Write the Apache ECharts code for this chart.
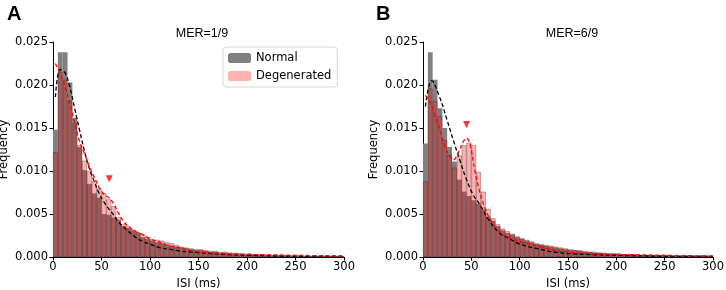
<!DOCTYPE html>
<html>
<head>
<meta charset="utf-8">
<script src="https://cdn.jsdelivr.net/npm/echarts@6/dist/echarts.min.js"></script>
<style>
  html, body { margin: 0; padding: 0; background: #fff; }
  #chart { width: 726px; height: 290px; }
</style>
</head>
<body>
<div id="chart"></div>
<script>
// 5 ms bins from 0 to 300 ms
const binLabels = []
for (let i = 0; i < 60; i++) binLabels.push(i * 5 + 2.5)

const xTicks = [0, 50, 100, 150, 200, 250, 300]
const yTicks = [0, 0.005, 0.010, 0.015, 0.020, 0.025]

// panel A (MER=1/9)
const normalA = [0.0148, 0.0238, 0.0238, 0.0203, 0.0162, 0.0128, 0.0101, 0.0085, 0.0074, 0.0069,
  0.0050, 0.0049, 0.0046, 0.0043, 0.0036, 0.0034, 0.0031, 0.0028, 0.0023, 0.0021,
  0.0019, 0.0017, 0.0016, 0.0014, 0.0013, 0.0012, 0.0011, 0.0010, 0.0009, 0.0008,
  0.0008, 0.0007, 0.0006, 0.0006, 0.0005, 0.0005, 0.0004, 0.0004, 0.0004, 0.0003,
  0.0003, 0.0003, 0.0003, 0.0002, 0.0002, 0.0002, 0.0002, 0.0002, 0.0002, 0.0001,
  0.0001, 0.0001, 0.0001, 0.0001, 0.0001, 0.0001, 0.0001, 0.0001, 0.0001, 0.0001]
const degenA = [0.0122, 0.0215, 0.0206, 0.0182, 0.0156, 0.0130, 0.0112, 0.0100, 0.0088, 0.0080,
  0.0074, 0.0067, 0.0059, 0.0046, 0.0038, 0.0036, 0.0032, 0.0029, 0.0026, 0.0023,
  0.0021, 0.0020, 0.0019, 0.0017, 0.0016, 0.0014, 0.0012, 0.0011, 0.0010, 0.0009,
  0.0009, 0.0008, 0.0007, 0.0007, 0.0006, 0.0006, 0.0005, 0.0005, 0.0004, 0.0004,
  0.0004, 0.0003, 0.0003, 0.0003, 0.0003, 0.0002, 0.0002, 0.0002, 0.0002, 0.0002,
  0.0002, 0.0001, 0.0001, 0.0001, 0.0001, 0.0001, 0.0001, 0.0001, 0.0001, 0.0001]
const fitNormalA = [[2.5, 0.0186], [7.5, 0.0218], [12.5, 0.0214], [17.5, 0.0197], [22.5, 0.0172],
  [27.5, 0.0147], [32.5, 0.0123], [37.5, 0.0103], [42.5, 0.0088], [47.5, 0.0074], [52.5, 0.0064],
  [57.5, 0.0056], [62.5, 0.0049], [67.5, 0.0041], [72.5, 0.0035], [77.5, 0.0030], [85, 0.0023],
  [92.5, 0.0018], [100, 0.0015], [110, 0.0011], [120, 0.0009], [130, 0.0007], [140, 0.0006],
  [150, 0.0005], [175, 0.0003], [200, 0.0002], [250, 0.0001], [300, 0.0001]]
const fitDegenA = [[2.5, 0.0225], [7.5, 0.0213], [12.5, 0.0198], [17.5, 0.0178], [22.5, 0.0155],
  [27.5, 0.0134], [32.5, 0.0120], [37.5, 0.0105], [42.5, 0.0093], [47.5, 0.0081], [52.5, 0.0073],
  [57.5, 0.0069], [62.5, 0.0062], [67.5, 0.0051], [72.5, 0.0042], [77.5, 0.0036], [85, 0.0030],
  [92.5, 0.0026], [100, 0.0021], [110, 0.0017], [120, 0.0013], [130, 0.0011], [140, 0.0008],
  [150, 0.0006], [175, 0.0004], [200, 0.0003], [250, 0.0002], [300, 0.0001]]
const peakA = [[58, 0.0091]]

// panel B (MER=6/9)
const normalB = [0.0132, 0.0238, 0.0206, 0.0173, 0.0150, 0.0128, 0.0111, 0.0090, 0.0076, 0.0071,
  0.0066, 0.0062, 0.0055, 0.0047, 0.0042, 0.0036, 0.0031, 0.0028, 0.0026, 0.0023,
  0.0021, 0.0019, 0.0017, 0.0015, 0.0014, 0.0013, 0.0012, 0.0011, 0.0010, 0.0009,
  0.0008, 0.0008, 0.0007, 0.0006, 0.0006, 0.0005, 0.0005, 0.0004, 0.0004, 0.0004,
  0.0003, 0.0003, 0.0003, 0.0003, 0.0002, 0.0002, 0.0002, 0.0002, 0.0002, 0.0002,
  0.0001, 0.0001, 0.0001, 0.0001, 0.0001, 0.0001, 0.0001, 0.0001, 0.0001, 0.0001]
const degenB = [0.0088, 0.0196, 0.0181, 0.0164, 0.0136, 0.0119, 0.0104, 0.0118, 0.0130, 0.0133,
  0.0130, 0.0099, 0.0076, 0.0056, 0.0045, 0.0038, 0.0033, 0.0030, 0.0027, 0.0024,
  0.0022, 0.0020, 0.0018, 0.0016, 0.0015, 0.0014, 0.0013, 0.0012, 0.0011, 0.0010,
  0.0009, 0.0008, 0.0008, 0.0007, 0.0006, 0.0006, 0.0005, 0.0005, 0.0004, 0.0004,
  0.0004, 0.0003, 0.0003, 0.0003, 0.0003, 0.0002, 0.0002, 0.0002, 0.0002, 0.0002,
  0.0002, 0.0001, 0.0001, 0.0001, 0.0001, 0.0001, 0.0001, 0.0001, 0.0001, 0.0001]
const fitNormalB = [[2.5, 0.0175], [9, 0.0205], [17.5, 0.0185], [24.4, 0.0161], [31.3, 0.0136],
  [38, 0.0113], [45, 0.0090], [52, 0.0072], [58.8, 0.0061], [67, 0.0045], [79, 0.0028],
  [90, 0.0021], [100, 0.0015], [121, 0.0009], [141, 0.0005], [170, 0.0003], [200, 0.0002],
  [250, 0.0001], [300, 0.0001]]
const fitDegenB = [[2.5, 0.0188], [7, 0.0181], [12, 0.0165], [17.5, 0.0148], [22.7, 0.0128],
  [27.8, 0.0117], [31.3, 0.0113], [36.4, 0.0121], [41.6, 0.0134], [45, 0.0138], [48.4, 0.0132],
  [53.6, 0.0101], [58.8, 0.0075], [64, 0.0057], [69, 0.0045], [79, 0.0029], [90, 0.0022],
  [100, 0.0018], [121, 0.0012], [141, 0.0007], [170, 0.0004], [200, 0.0003], [250, 0.0002],
  [300, 0.0001]]
const peakB = [[45, 0.0154]]

const font = 'DejaVu Sans'
const fs = 11.5
const chart = echarts.init(document.getElementById('chart'))

// 柱状图和曲线共用的坐标轴样式
function valueX (gridIndex) {
  return {
    type: 'value', gridIndex, position: 'bottom', min: 0, max: 300, interval: 50,
    name: 'ISI (ms)', nameLocation: 'middle', nameGap: 20,
    nameTextStyle: { color: '#000', fontSize: fs, fontFamily: font },
    axisLine: { lineStyle: { color: '#000', width: 1 } },
    axisTick: { show: true, length: 3.5, lineStyle: { color: '#000' } },
    axisLabel: { color: '#000', fontSize: fs, fontFamily: font, margin: 4 },
    splitLine: { show: false }
  }
}
function catX (gridIndex) {
  return { type: 'category', gridIndex, position: 'bottom', data: binLabels, show: false, boundaryGap: true }
}
function valueY (gridIndex) {
  return {
    type: 'value', gridIndex, min: 0, max: 0.025, interval: 0.005,
    name: 'Frequency', nameLocation: 'middle', nameGap: 43,
    nameTextStyle: { color: '#000', fontSize: fs, fontFamily: font },
    axisLine: { show: true, lineStyle: { color: '#000', width: 1 } },
    axisTick: { show: true, length: 3.5, lineStyle: { color: '#000' } },
    axisLabel: { color: '#000', fontSize: fs, fontFamily: font, margin: 5, formatter: v => v.toFixed(3) },
    splitLine: { show: false }
  }
}

function panelSeries (catIdx, valIdx, yIdx, normal, degen, fitN, fitD, peak) {
  return [
    {
      name: 'Normal', type: 'bar', xAxisIndex: catIdx, yAxisIndex: yIdx,
      data: normal, barWidth: '100%', barGap: '-100%', barCategoryGap: '0%',
      itemStyle: { color: '#808080' }, silent: true, z: 1
    },
    {
      name: 'Degenerated', type: 'bar', xAxisIndex: catIdx, yAxisIndex: yIdx,
      data: degen, barWidth: '100%', barGap: '-100%', barCategoryGap: '0%',
      itemStyle: { color: 'rgba(255,0,0,0.3)', borderColor: 'rgba(60,20,20,0.55)', borderWidth: 0.6 },
      silent: true, z: 2
    },
    {
      type: 'line', xAxisIndex: valIdx, yAxisIndex: yIdx, data: fitN, smooth: 0.4,
      showSymbol: false, lineStyle: { color: '#000', width: 1.3, type: [4, 2.5] }, z: 3
    },
    {
      type: 'line', xAxisIndex: valIdx, yAxisIndex: yIdx, data: fitD, smooth: 0.4,
      showSymbol: false, lineStyle: { color: '#ff0000', width: 1.3, type: [4, 2.5] }, z: 4
    },
    {
      type: 'scatter', xAxisIndex: valIdx, yAxisIndex: yIdx, data: peak,
      symbol: 'triangle', symbolRotate: 180, symbolSize: 7, itemStyle: { color: '#ff0000' }, z: 5
    }
  ]
}

const option = {
  animation: false,
  title: [
    { text: 'A', left: 2, top: -1, textStyle: { fontSize: 20, fontWeight: 'bold', color: '#000', fontFamily: 'Liberation Sans' } },
    { text: 'B', left: 371, top: -1, textStyle: { fontSize: 20, fontWeight: 'bold', color: '#000', fontFamily: 'Liberation Sans' } },
    { text: 'MER=1/9', left: 197, top: 22, textAlign: 'center', textStyle: { fontSize: 12.5, fontWeight: 'normal', color: '#000', fontFamily: 'Liberation Sans' } },
    { text: 'MER=6/9', left: 567, top: 22, textAlign: 'center', textStyle: { fontSize: 12.5, fontWeight: 'normal', color: '#000', fontFamily: 'Liberation Sans' } }
  ],
  legend: {
    data: ['Normal', 'Degenerated'], orient: 'vertical', left: 223, top: 47,
    itemWidth: 23, itemHeight: 10, itemGap: 6, padding: [5, 6, 5, 5],
    borderColor: '#d5d5d5', borderWidth: 1, borderRadius: 3, backgroundColor: '#fff',
    itemStyle: { borderWidth: 0 },
    textStyle: { fontSize: fs, fontFamily: font, color: '#000' }, selectedMode: false
  },
  grid: [
    { left: 53, top: 42, width: 291, height: 215, outerBoundsMode: 'none' },
    { left: 423, top: 42, width: 290, height: 215, outerBoundsMode: 'none' }
  ],
  xAxis: [catX(0), valueX(0), catX(1), valueX(1)],
  yAxis: [valueY(0), valueY(1)],
  series: [
    ...panelSeries(0, 1, 0, normalA, degenA, fitNormalA, fitDegenA, peakA),
    ...panelSeries(2, 3, 1, normalB, degenB, fitNormalB, fitDegenB, peakB)
  ]
}
chart.setOption(option)
</script>
</body>
</html>
